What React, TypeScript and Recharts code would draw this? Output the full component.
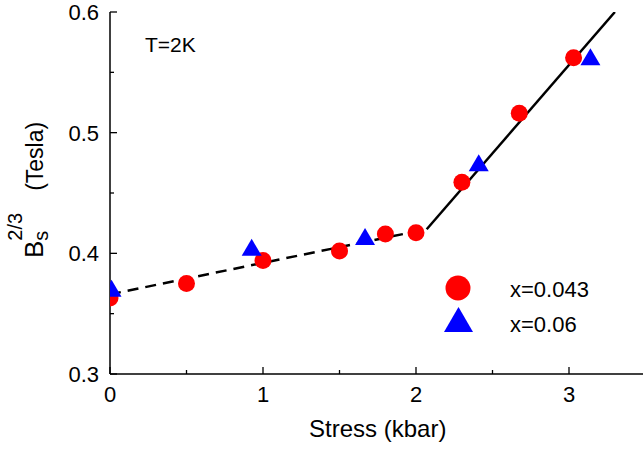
import { ComposedChart, Line, Scatter, XAxis, YAxis, Legend, Customized } from 'recharts';

const FONT = '"Liberation Sans", Arial, Helvetica, sans-serif';

// x = 0.043 sample (red circles)
const stressA = [0, 0.5, 1.0, 1.5, 1.8, 2.0, 2.3, 2.675, 3.03];
const fieldA = [0.363, 0.375, 0.394, 0.402, 0.416, 0.417, 0.459, 0.516, 0.562];

// x = 0.06 sample (blue triangles)
const stressB = [0.01, 0.926, 1.667, 2.41, 3.14];
const fieldB = [0.371, 0.405, 0.414, 0.475, 0.563];

// guide lines: dashed below the kink, solid above
const dashX = [0, 2.07];
const dashY = [0.366, 0.42];
const solidX = [2.07, 3.3];
const solidY = [0.42, 0.6];

const seriesNames = ['x=0.043', 'x=0.06'];
const xTicks = [0, 0.5, 1, 1.5, 2, 2.5, 3, 3.5];
const yTicks = [0.3, 0.35, 0.4, 0.45, 0.5, 0.55, 0.6];

const zip = (xs: number[], ys: number[]) => xs.map((x, i) => ({ x, y: ys[i] }));
const dataA = zip(stressA, fieldA);
const dataB = zip(stressB, fieldB);
const dashData = zip(dashX, dashY);
const solidData = zip(solidX, solidY);

const isMajor = (v: number, step: number) => Math.abs(v / step - Math.round(v / step)) < 1e-6;

const RED = '#ff0000';
const BLUE = '#0000ff';

function Circle({ cx, cy, r = 8.5 }: any) {
  return <circle cx={cx} cy={cy} r={r} fill={RED} />;
}

function Triangle({ cx, cy, w = 20, h = 17 }: any) {
  return (
    <polygon
      points={`${cx},${cy - h / 2} ${cx + w / 2},${cy + h / 2} ${cx - w / 2},${cy + h / 2}`}
      fill={BLUE}
    />
  );
}

function BottomTick({ x, y, payload }: any) {
  const major = isMajor(payload.value, 1);
  return (
    <g>
      <line x1={x} x2={x} y1={y} y2={y - (major ? 7 : 4)} stroke="#000" strokeWidth={1.3} />
      {major && (
        <text x={x} y={y + 28} textAnchor="middle" fontSize={22} fontFamily={FONT} fill="#000">
          {payload.value}
        </text>
      )}
    </g>
  );
}

function TopTick({ x, y }: any) {
  return <line x1={x} x2={x} y1={y} y2={y + 3} stroke="#000" strokeWidth={1.3} />;
}

function LeftTick({ x, y, payload }: any) {
  const major = isMajor(payload.value, 0.1);
  return (
    <g>
      <line x1={x} x2={x + (major ? 7 : 4)} y1={y} y2={y} stroke="#000" strokeWidth={1.3} />
      {major && (
        <text x={x - 11} y={y + 8} textAnchor="end" fontSize={22} fontFamily={FONT} fill="#000">
          {payload.value.toFixed(1)}
        </text>
      )}
    </g>
  );
}

function LegendBox() {
  return (
    <svg width={180} height={70} style={{ display: 'block' }}>
      <circle cx={18} cy={16} r={12.5} fill={RED} />
      <text x={70} y={25} fontSize={22} fontFamily={FONT} fill="#000">{seriesNames[0]}</text>
      <polygon points="18.5,35 33,60 4,60" fill={BLUE} />
      <text x={70} y={60} fontSize={22} fontFamily={FONT} fill="#000">{seriesNames[1]}</text>
    </svg>
  );
}

function Annotations() {
  return (
    <g fontFamily={FONT} fill="#000">
      <text x={145} y={52} fontSize={21}>T=2K</text>
      <text transform="translate(43,258) rotate(-90)" fontSize={26}>
        B
        <tspan fontSize={20} dy={5}>s</tspan>
        <tspan fontSize={20} dx={-10} dy={-26}>2/3</tspan>
        <tspan fontSize={23} dx={22} dy={21}>(Tesla)</tspan>
      </text>
    </g>
  );
}

export default function App() {
  return (
    <div style={{ position: 'absolute', left: 0, top: 0, width: 643, height: 449, overflow: 'hidden', background: '#fff' }}>
      <ComposedChart width={660} height={449} margin={{ top: 12, right: 14.5, bottom: 0, left: 0 }}>
        <XAxis
          dataKey="x"
          type="number"
          domain={[0, 3.5]}
          ticks={xTicks}
          allowDataOverflow
          height={75}
          tickSize={0}
          tickMargin={0}
          tick={<BottomTick />}
          axisLine={{ stroke: '#000', strokeWidth: 1.5 }}
          label={{ value: 'Stress (kbar)', position: 'insideBottom', offset: 12, fontSize: 24, fontFamily: FONT, fill: '#000' }}
        />
        <XAxis
          xAxisId="top"
          orientation="top"
          type="number"
          domain={[0, 3.5]}
          ticks={xTicks}
          height={0}
          tickSize={0}
          tickMargin={0}
          tick={<TopTick />}
          axisLine={{ stroke: '#000', strokeWidth: 1.5 }}
        />
        <YAxis
          dataKey="y"
          type="number"
          domain={[0.3, 0.6]}
          ticks={yTicks}
          allowDataOverflow
          width={110}
          tickSize={0}
          tickMargin={0}
          tick={<LeftTick />}
          axisLine={{ stroke: '#000', strokeWidth: 1.5 }}
        />
        <Line
          data={dashData}
          dataKey="y"
          stroke="#000"
          strokeWidth={2.5}
          strokeDasharray="11 7"
          dot={false}
          activeDot={false}
          isAnimationActive={false}
        />
        <Line
          data={solidData}
          dataKey="y"
          stroke="#000"
          strokeWidth={2.5}
          dot={false}
          activeDot={false}
          isAnimationActive={false}
        />
        <Scatter name={seriesNames[0]} data={dataA} dataKey="y" shape={<Circle />} isAnimationActive={false} />
        <Scatter name={seriesNames[1]} data={dataB} dataKey="y" shape={<Triangle />} isAnimationActive={false} />
        <Legend
          layout="vertical"
          align="center"
          verticalAlign="middle"
          content={<LegendBox />}
          wrapperStyle={{ left: 440, top: 272, width: 180, height: 70 }}
        />
        <Customized component={<Annotations />} />
      </ComposedChart>
    </div>
  );
}
